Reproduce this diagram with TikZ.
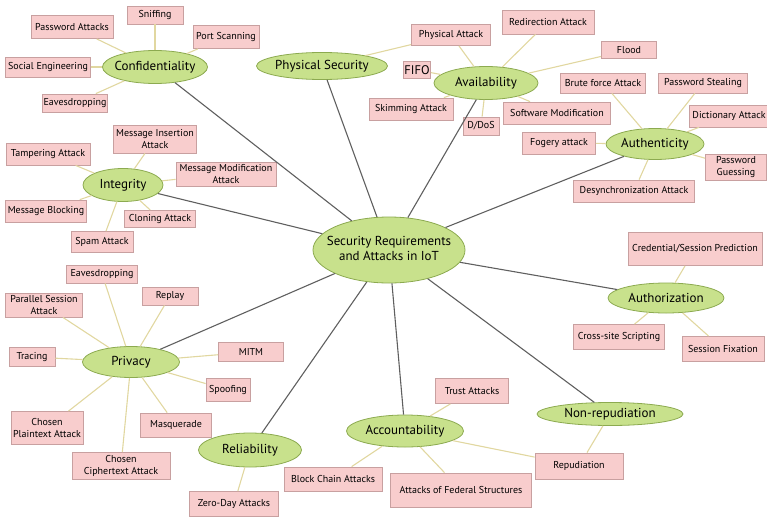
\documentclass[tikz,border=0pt]{standalone}
\usepackage{fontspec}
\setmainfont{PT Sans}
\usetikzlibrary{shapes.geometric}

\definecolor{reqfill}{RGB}{200,225,140}
\definecolor{reqline}{RGB}{140,170,80}
\definecolor{atkfill}{RGB}{248,205,205}
\definecolor{atkline}{RGB}{200,160,160}
\definecolor{twigcol}{RGB}{225,215,160}
\definecolor{spokecol}{RGB}{95,95,95}

\begin{document}
\begin{tikzpicture}[x=1pt, y=-1pt]
  % Styles
  \tikzset{
    req/.style={ellipse, draw=reqline, fill=reqfill, thick, inner sep=0pt, font=\fontsize{13}{15}\selectfont},
    atk/.style={draw=atkline, fill=atkfill, thick, inner sep=1pt, align=center, font=\fontsize{10}{12}\selectfont},
    wh/.style 2 args={minimum width=#1, minimum height=#2},
    spoke/.style={draw=spokecol, line width=1.1pt},
    twig/.style={draw=twigcol, line width=1.1pt},
  }

  \useasboundingbox (0,0) rectangle (767,519);

  % Centre
  \node[req, wh={152}{66}] (iot) at (389,250) {\makebox[0pt]{\begin{tabular}{@{}c@{}}Security Requirements\\and Attacks in IoT\end{tabular}}};

  % Confidentiality
  \node[req, wh={105}{33}] (conf) at (155,67) {\makebox[0pt]{Confidentiality}};
  \node[atk, wh={82}{23}] (cPwd) at (72,27) {Password Attacks};
  \node[atk, wh={56}{18}] (cSniff) at (155,15) {Sniffing};
  \node[atk, wh={66}{23}] (cPort) at (226,37) {Port Scanning};
  \node[atk, wh={85}{20}] (cSocial) at (48,67) {Social Engineering};
  \node[atk, wh={64}{18}] (cEaves) at (75,103) {Eavesdropping};

  % Physical Security / Availability
  \node[req, wh={131}{27}] (phys) at (322,66) {\makebox[0pt]{Physical Security}};
  \node[req, wh={104}{33}] (avail) at (486,83) {\makebox[0pt]{Availability}};
  \node[atk, wh={79}{21}] (aPhys) at (451,35) {Physical Attack};
  \node[atk, wh={27}{17}, font=\fontsize{12.5}{14}\selectfont] (aFifo) at (417,70) {FIFO};
  \node[atk, wh={84}{22}] (aSkim) at (411,109) {Skimming Attack};
  \node[atk, wh={36}{18}] (aDdos) at (481,126) {D/DoS};
  \node[atk, wh={107}{22}] (aSoft) at (557,113) {Software Modification};
  \node[atk, wh={92}{24}] (aRedir) at (548,22) {Redirection Attack};
  \node[atk, wh={55}{17}] (aFlood) at (629,50) {Flood};

  % Authenticity
  \node[req, wh={98}{31}] (auth) at (655,144) {\makebox[0pt]{Authenticity}};
  \node[atk, wh={85}{20}] (uBrute) at (603,83) {Brute force Attack};
  \node[atk, wh={89}{20}] (uSteal) at (703,83) {Password Stealing};
  \node[atk, wh={80}{22}] (uDict) at (729,116) {Dictionary Attack};
  \node[atk, wh={73}{22}] (uFog) at (559,143) {Fogery attack};
  \node[atk, wh={61}{26}] (uGuess) at (736,167) {Password\\Guessing};
  \node[atk, wh={121}{22}] (uDesync) at (634,191) {Desynchronization Attack};

  % Integrity
  \node[req, wh={80}{33}] (integ) at (123,185) {\makebox[0pt]{Integrity}};
  \node[atk, wh={84}{22}] (iTamper) at (48,154) {Tampering Attack};
  \node[atk, wh={83}{28}] (iInsert) at (155,139) {Message Insertion\\Attack};
  \node[atk, wh={100}{24}] (iModif) at (226,174) {Message Modification\\Attack};
  \node[atk, wh={81}{22}] (iBlock) at (46,211) {Message Blocking};
  \node[atk, wh={71}{17}] (iClone) at (160,219) {Cloning Attack};
  \node[atk, wh={62}{21}] (iSpam) at (102,242) {Spam Attack};

  % Authorization
  \node[req, wh={116}{30}] (authz) at (666,298) {\makebox[0pt]{Authorization}};
  \node[atk, wh={134}{33}] (zCred) at (695,249) {Credential/Session Prediction};
  \node[atk, wh={91}{25}] (zXss) at (619,337) {Cross-site Scripting};
  \node[atk, wh={82}{25}] (zFix) at (723,349) {Session Fixation};

  % Privacy
  \node[req, wh={97}{31}] (priv) at (131,362) {\makebox[0pt]{Privacy}};
  \node[atk, wh={71}{18}] (pEaves) at (102,274) {Eavesdropping};
  \node[atk, wh={56}{18}] (pReplay) at (170,296) {Replay};
  \node[atk, wh={77}{24}] (pPar) at (44,305) {Parallel Session\\Attack};
  \node[atk, wh={46}{19}] (pTrace) at (32,357) {Tracing};
  \node[atk, wh={65}{19}] (pMitm) at (251,352) {MITM};
  \node[atk, wh={44}{23}] (pSpoof) at (228,390) {Spoofing};
  \node[atk, wh={71}{24}] (pMasq) at (176,425) {Masquerade};
  \node[atk, wh={72}{33}] (pPlain) at (47,428) {Chosen\\Plaintext Attack};
  \node[atk, wh={98}{27}] (pCipher) at (121,466) {Chosen\\Ciphertext Attack};

  % Reliability
  \node[req, wh={103}{34}] (rel) at (250,450) {\makebox[0pt]{Reliability}};
  \node[atk, wh={89}{25}] (rZero) at (234,504) {Zero-Day Attacks};

  % Accountability / Non-repudiation
  \node[req, wh={117}{32}] (acc) at (405,431) {\makebox[0pt]{Accountability}};
  \node[req, wh={146}{23}] (nonrep) at (610,414) {\makebox[0pt]{Non-repudiation}};
  \node[atk, wh={73}{25}] (kTrust) at (472,391) {Trust Attacks};
  \node[atk, wh={98}{24}] (kBlock) at (333,479) {Block Chain Attacks};
  \node[atk, wh={141}{34}] (kFed) at (461,490) {Attacks of Federal Structures};
  \node[atk, wh={88}{26}] (nRep) at (579,466) {Repudiation};

  % Spokes
  \foreach \r in {conf, phys, avail, auth, integ, authz, priv, rel, acc, nonrep}
    \draw[spoke] (iot) -- (\r);

  % Attacks
  \foreach \a/\b in {
    conf/cPwd, conf/cSniff, conf/cPort, conf/cSocial, conf/cEaves,
    phys/aPhys, avail/aPhys, avail/aFifo, avail/aSkim, avail/aDdos,
    avail/aSoft, avail/aRedir, avail/aFlood,
    auth/uBrute, auth/uSteal, auth/uDict, auth/uFog, auth/uGuess, auth/uDesync,
    integ/iTamper, integ/iInsert, integ/iModif, integ/iBlock, integ/iClone, integ/iSpam,
    authz/zCred, authz/zXss, authz/zFix,
    priv/pEaves, priv/pReplay, priv/pPar, priv/pTrace, priv/pMitm,
    priv/pSpoof, priv/pMasq, priv/pPlain, priv/pCipher,
    rel/rZero,
    acc/kTrust, acc/kBlock, acc/kFed, acc/nRep, nonrep/nRep}{
    \draw[twig] (\a) -- (\b);
  }

\end{tikzpicture}
\end{document}
